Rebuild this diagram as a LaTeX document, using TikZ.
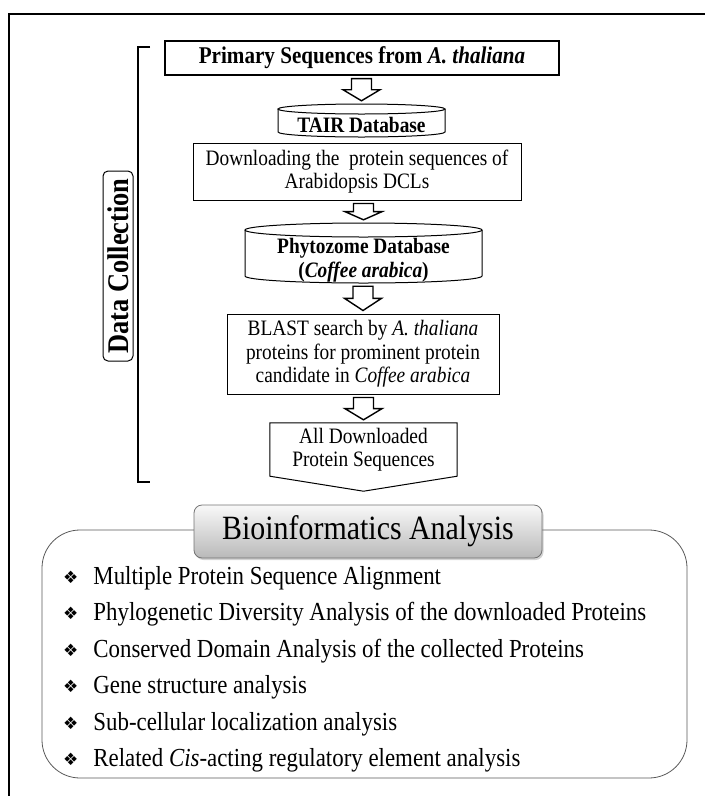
\documentclass[tikz,border=0pt]{standalone}
\usepackage{fontspec}
\setmainfont[FakeStretch=0.88]{Liberation Serif}
\newfontfamily\symfont{DejaVu Sans}
\usetikzlibrary{calc,shadows}
\newcommand{\blockarr}[2]{%
  \draw[blockarrow] let \p1=(#1.south), \p2=(#2.north) in
    ({\x2-10pt},{\y1-3pt}) -- ({\x2+10pt},{\y1-3pt}) --
    ({\x2+10pt},{0.5*(\y1)+0.5*(\y2)}) -- ({\x2+18.5pt},{0.5*(\y1)+0.5*(\y2)}) --
    (\x2,{\y2+3pt}) --
    ({\x2-18.5pt},{0.5*(\y1)+0.5*(\y2)}) -- ({\x2-10pt},{0.5*(\y1)+0.5*(\y2)}) -- cycle;}
\newcommand{\itemtext}[1]{\raisebox{1pt}{\symfont\fontsize{17}{17}\selectfont ❖}\hspace{15pt}#1}
\begin{document}
\begin{tikzpicture}[x=1pt,y=-1pt,
  box/.style={draw, line width=1pt, inner sep=0pt, align=center, font=\fontsize{22}{23.5}\selectfont},
  plain/.style={inner sep=0pt, align=center, font=\fontsize{22}{23.5}\selectfont},
  blockarrow/.style={draw, line width=1.4pt, fill=white, line join=miter},
  item/.style={anchor=west, inner sep=0pt, font=\fontsize{26}{28}\selectfont}]
\useasboundingbox (0,0) rectangle (705,796);
% outer frame
\draw[line width=2.2pt] (9,796) -- (9,14) -- (705,14);
% bracket
\draw[line width=1.1pt] (150,47) -- (138,47) -- (138,482) -- (150,482);
\node[draw, line width=1pt, rounded corners=5, rotate=90, minimum width=190, minimum height=30, inner sep=0pt, font=\fontsize{30}{30}\selectfont\bfseries] (dc) at (118,266) {Data Collection};
% box 1
\node[box, line width=1.3pt, minimum width=394, minimum height=34, font=\fontsize{24}{26}\selectfont\bfseries] (b1) at (362,58) {Primary Sequences from \textit{A. thaliana}};
% TAIR cylinder
\node[inner sep=0pt, minimum width=167, minimum height=33] (tair) at (361.5,120.5) {};
\draw[line width=1pt] (361.5,109) ellipse [x radius=83.5, y radius=5];
\draw[line width=1pt] (278,109) -- (278,132) .. controls (278,134.8) and (315.4,137) .. (361.5,137) .. controls (407.6,137) and (445,134.8) .. (445,132) -- (445,109);
\node[plain, font=\fontsize{22}{23.5}\selectfont\bfseries] (tairt) at (361.5,125) {TAIR Database};
% downloading box
\node[box, minimum width=328, minimum height=57] (dl) at (357,171.5) {Downloading the\ \ protein sequences of\\Arabidopsis DCLs};
% Phytozome cylinder
\node[inner sep=0pt, minimum width=237, minimum height=60] (phy) at (363.5,253) {};
\draw[line width=1pt] (363.5,230) ellipse [x radius=118.5, y radius=7];
\draw[line width=1pt] (245,230) -- (245,276) .. controls (245,279.9) and (298.1,283) .. (363.5,283) .. controls (428.9,283) and (482,279.9) .. (482,276) -- (482,230);
\node[plain, font=\fontsize{22}{24}\selectfont\bfseries] (phyt) at (363.5,260) {Phytozome Database\\(\textit{Coffee arabica})};
% BLAST box
\node[box, minimum width=272, minimum height=80] (blast) at (363,354) {BLAST search by \textit{A. thaliana}\\proteins for prominent protein\\candidate in \textit{Coffee arabica}};
% All downloaded pentagon
\node[plain, minimum width=187, minimum height=53] (alld) at (363.5,449.5) {All Downloaded\\Protein Sequences};
\draw[line width=1pt] (alld.north west) -- (alld.north east) -- (alld.south east) -- ($(alld.south)+(0,15)$) -- (alld.south west) -- cycle;
% block arrows
\blockarr{b1}{tair}
\blockarr{dl}{phy}
\blockarr{phy}{blast}
\blockarr{blast}{alld}
% bioinformatics analysis
\node[draw=black!65, line width=0.8pt, rounded corners=38, minimum width=645, minimum height=248, inner sep=0pt] (bio) at (364.5,654) {};
\node[draw=black!55, line width=0.8pt, rounded corners=8, top color=gray!5, bottom color=gray!55, minimum width=348, minimum height=53, inner sep=0pt, font=\fontsize{34}{36}\selectfont, drop shadow={opacity=0.35, shadow xshift=1.5pt, shadow yshift=-2pt}] (hdr) at (368,531.5) {Bioinformatics Analysis};
\node[item] (i1) at (63,578) {\itemtext{Multiple Protein Sequence Alignment}};
\node[item] (i2) at (63,614.5) {\itemtext{Phylogenetic Diversity Analysis of the downloaded Proteins}};
\node[item] (i3) at (63,651) {\itemtext{Conserved Domain Analysis of the collected Proteins}};
\node[item] (i4) at (63,687.5) {\itemtext{Gene structure analysis}};
\node[item] (i5) at (63,724) {\itemtext{Sub-cellular localization analysis}};
\node[item] (i6) at (63,760) {\itemtext{Related \textit{Cis}-acting regulatory element analysis}};
\end{tikzpicture}
\end{document}
